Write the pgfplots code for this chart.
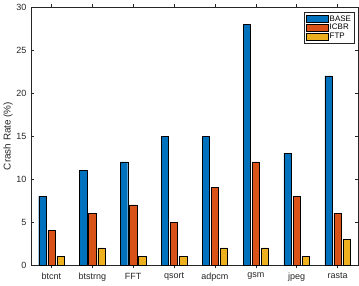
\documentclass[border=0pt]{standalone}
\usepackage{pgfplots}
\pgfplotsset{compat=1.18}
\usepackage{fontspec}
\setmainfont{Liberation Sans}
\definecolor{mblue}{rgb}{0,0.447,0.741}
\definecolor{morange}{rgb}{0.85,0.325,0.098}
\definecolor{myellow}{rgb}{0.929,0.694,0.125}
\definecolor{axgray}{rgb}{0.15,0.15,0.15}
\pgfplotstableread{
x base icbr ftp
1 8 4 1
2 11 6 2
3 12 7 1
4 15 5 1
5 15 9 2
6 28 12 2
7 13 8 1
8 22 6 3
}\crashdata
\begin{document}
\begin{tikzpicture}
\begin{axis}[
  at={(0,0)}, anchor=south west,
  scale only axis, width=327pt, height=258pt,
  xmin=0.5, xmax=8.5, ymin=0, ymax=30,
  xtick=data,
  xticklabels={btcnt,btstrng,FFT,qsort,adpcm,gsm,jpeg,rasta},
  ytick={0,5,...,30},
  tick align=inside,
  major tick length=3.3pt,
  axis line style={axgray, line width=0.5pt},
  every tick/.style={axgray, line width=0.5pt},
  tick label style={font=\fontsize{9}{10}\selectfont, text=axgray},
  xticklabel style={yshift=-1pt},
  yticklabel style={xshift=-1pt},
  /pgf/number format/assume math mode=true,
  ylabel={Crash Rate (\%)},
  ylabel style={font=\fontsize{9.9}{11}\selectfont, text=axgray},
  ylabel shift=-3pt,
  ybar, bar width=0.178,
  legend style={at={(0.99,0.98)}, anchor=north east, draw=axgray,
    line width=0.4pt,
    font=\fontsize{8}{9}\selectfont, text=black, inner xsep=2pt, inner ysep=2pt,
    row sep=0pt, column sep=0pt,
    nodes={text height=6.2pt, text depth=1.4pt, inner xsep=1.5pt, inner ysep=0.6pt},
    cells={anchor=west}},
  legend image code/.code={\draw[#1] (0pt,-3.5pt) rectangle (22pt,3.5pt);},
]
\addplot[fill=mblue, draw=black, line width=0.4pt, bar shift=-0.222] table[x=x,y=base] {\crashdata};
\addplot[fill=morange, draw=black, line width=0.4pt, bar shift=0] table[x=x,y=icbr] {\crashdata};
\addplot[fill=myellow, draw=black, line width=0.4pt, bar shift=0.222] table[x=x,y=ftp] {\crashdata};
\legend{BASE,ICBR,FTP}
\end{axis}
\useasboundingbox (-31pt,-20pt) rectangle (328pt,265pt);
\end{tikzpicture}
\end{document}
